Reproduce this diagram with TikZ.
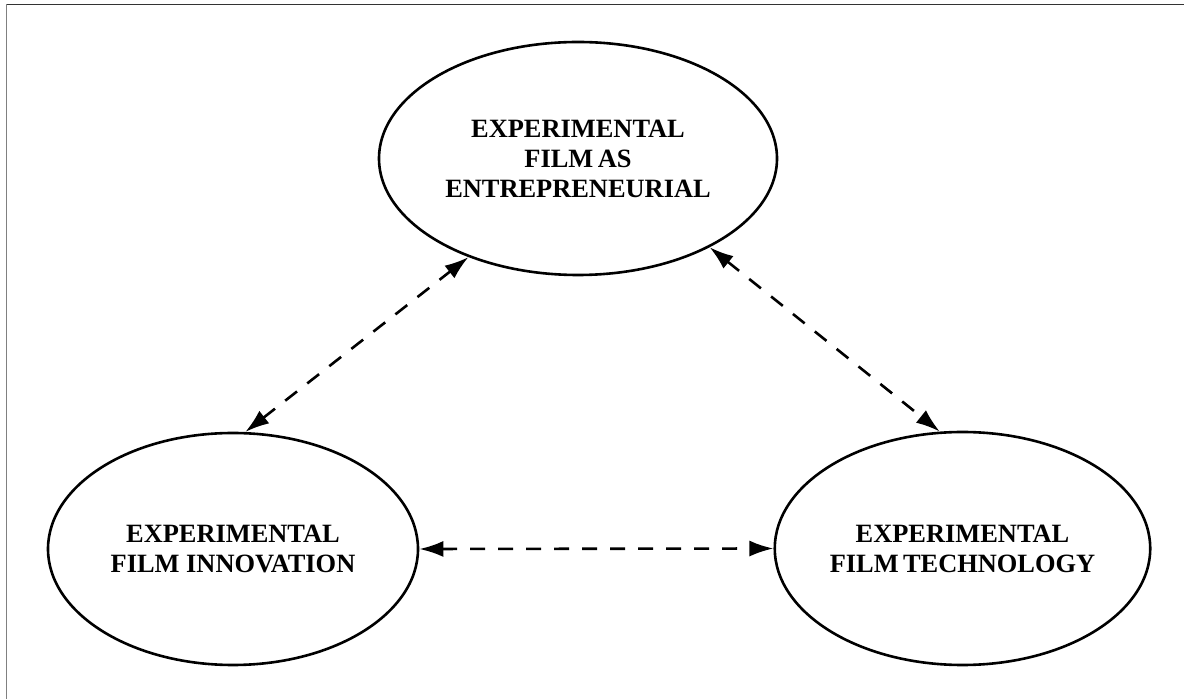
\documentclass[tikz,border=0pt]{standalone}
\usepackage{fontspec}
\setmainfont{Liberation Serif}
\usetikzlibrary{shapes.geometric,arrows.meta}
\tikzset{
	concept/.style={ellipse, draw, line width=1.3pt, inner sep=0pt, align=center,
		font=\fontsize{13.2}{15}\selectfont\bfseries},
	link/.style={{Latex[length=12pt,width=8pt]}-{Latex[length=12pt,width=8pt]},
		line width=1.3pt, dash pattern=on 7.5pt off 6.5pt},
}

\begin{document}
\begin{tikzpicture}[x=0.5pt,y=-0.5pt]
		\useasboundingbox (0,0) rectangle (1184,699);
		\draw[black!80, line width=0.9pt] (6.5,4.5) -- (1184,4.5);
		\draw[gray, line width=0.9pt] (6.5,4.5) -- (6.5,699);

		\node[concept, minimum width=199pt, minimum height=116.5pt] (entre) at (578,158.5) {EXPERIMENTAL\\FILM\,AS\\ENTREPRENEURIAL};
		\node[concept, minimum width=185pt, minimum height=116pt] (inno) at (233,549) {EXPERIMENTAL\\FILM INNOVATION};
		\node[concept, minimum width=186.5pt, minimum height=116.5pt] (tech) at (962.5,548.5) {EXPERIMENTAL\\FILM\,TECHNOLOGY};

		\draw[link] (inno.84) -- (entre.222);
		\draw[link] (entre.326) -- (tech.101);
		\draw[link] (inno.east) -- (tech.west);
	\end{tikzpicture}
\end{document}
